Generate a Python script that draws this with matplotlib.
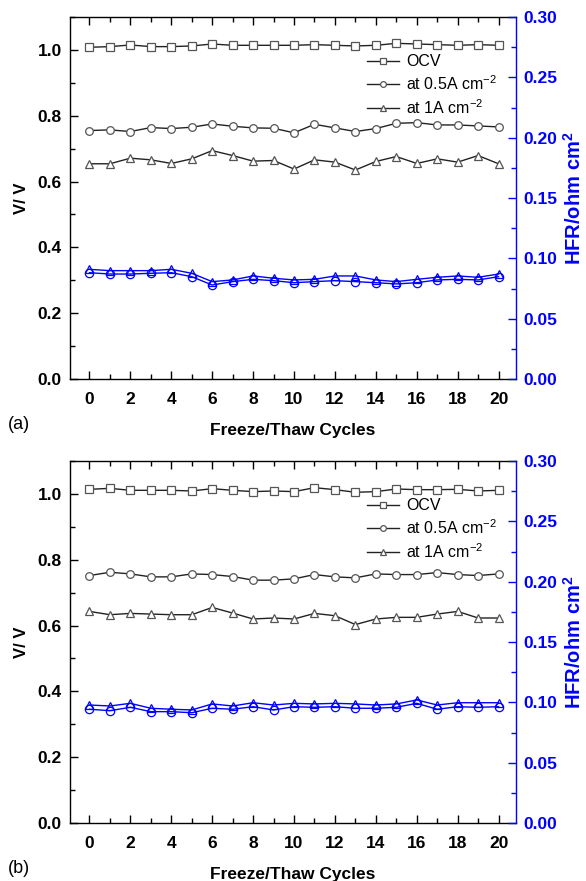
import matplotlib
matplotlib.use("Agg")
import matplotlib.pyplot as plt
from matplotlib.ticker import MultipleLocator

plt.rcParams['font.family'] = ['Liberation Sans', 'DejaVu Sans']
plt.rcParams['mathtext.default'] = 'regular'

cycles = list(range(21))

# panel (a)
ocv_a = [1.008, 1.010, 1.015, 1.010, 1.010, 1.012, 1.018, 1.014, 1.014, 1.014, 1.014,
         1.016, 1.014, 1.012, 1.014, 1.020, 1.018, 1.016, 1.014, 1.016, 1.014]
v05_a = [0.755, 0.757, 0.752, 0.764, 0.761, 0.765, 0.775, 0.768, 0.763, 0.762, 0.748,
         0.774, 0.763, 0.752, 0.761, 0.777, 0.779, 0.772, 0.772, 0.769, 0.766]
v1_a = [0.654, 0.654, 0.671, 0.666, 0.655, 0.669, 0.694, 0.679, 0.662, 0.664, 0.638,
        0.666, 0.659, 0.635, 0.661, 0.676, 0.655, 0.669, 0.659, 0.679, 0.654]
hfr1_a = [0.0909, 0.0898, 0.0898, 0.0898, 0.0909, 0.0876, 0.0807, 0.0821, 0.0854, 0.0835, 0.0821,
          0.0826, 0.0854, 0.0854, 0.0821, 0.0807, 0.0826, 0.0843, 0.0854, 0.0843, 0.0870]
hfr05_a = [0.0881, 0.0870, 0.0870, 0.0876, 0.0881, 0.0848, 0.0779, 0.0807, 0.0826, 0.0815, 0.0798,
           0.0807, 0.0815, 0.0807, 0.0798, 0.0788, 0.0798, 0.0821, 0.0826, 0.0821, 0.0848]

# panel (b)
ocv_b = [1.014, 1.017, 1.011, 1.011, 1.011, 1.009, 1.016, 1.011, 1.007, 1.009, 1.007,
         1.019, 1.013, 1.005, 1.007, 1.015, 1.013, 1.013, 1.014, 1.009, 1.011]
v05_b = [0.752, 0.762, 0.757, 0.748, 0.748, 0.757, 0.755, 0.749, 0.738, 0.738, 0.742,
         0.755, 0.748, 0.745, 0.757, 0.755, 0.755, 0.761, 0.755, 0.752, 0.757]
v1_b = [0.643, 0.633, 0.637, 0.635, 0.633, 0.633, 0.655, 0.638, 0.620, 0.623, 0.620,
        0.637, 0.630, 0.603, 0.620, 0.625, 0.625, 0.635, 0.643, 0.623, 0.623]
hfr1_b = [0.0978, 0.0970, 0.0992, 0.0951, 0.0943, 0.0937, 0.0987, 0.0970, 0.0997, 0.0978, 0.0992,
          0.0987, 0.0992, 0.0987, 0.0978, 0.0987, 0.1020, 0.0978, 0.0997, 0.0997, 0.0997]
hfr05_b = [0.0943, 0.0931, 0.0959, 0.0923, 0.0923, 0.0914, 0.0951, 0.0943, 0.0964, 0.0937, 0.0964,
           0.0959, 0.0964, 0.0951, 0.0951, 0.0959, 0.0992, 0.0943, 0.0964, 0.0959, 0.0964]

labels = ['OCV', 'at 0.5A cm$^{-2}$', 'at 1A cm$^{-2}$']
blue = '#0000ff'


def draw_panel(ax, ocv, v05, v1, hfr1, hfr05, tag, leg_y):
    mk = dict(mfc='white', markersize=5.5, mew=0.9, lw=1.0, color='#222222', mec='#555555')
    ax.plot(cycles, ocv, marker='s', label=labels[0], **mk)
    ax.plot(cycles, v05, marker='o', label=labels[1], **mk)
    ax.plot(cycles, v1, marker='^', label=labels[2], **mk)
    ax.set_xlim(-0.95, 20.85)
    ax.set_ylim(0, 1.1)
    ax.xaxis.set_major_locator(MultipleLocator(2))
    ax.xaxis.set_minor_locator(MultipleLocator(1))
    ax.yaxis.set_major_locator(MultipleLocator(0.2))
    ax.yaxis.set_minor_locator(MultipleLocator(0.1))
    ax.tick_params(which='both', direction='in', top=True, width=1.0, labelsize=12.5)
    ax.tick_params(axis='x', pad=9)
    ax.tick_params(axis='y', pad=6)
    ax.tick_params(which='major', length=6)
    ax.tick_params(which='minor', length=3.5)
    for t in ax.get_xticklabels() + ax.get_yticklabels():
        t.set_fontweight('bold')
    ax.spines['right'].set_visible(False)
    for s in ['left', 'top', 'bottom']:
        ax.spines[s].set_linewidth(1.0)
    ax.set_ylabel('V/ V', fontsize=12, fontweight='bold', labelpad=6)
    ax.set_xlabel('Freeze/Thaw Cycles', fontsize=12.5, fontweight='bold', labelpad=12)
    ax.legend(loc='upper left', bbox_to_anchor=(0.652, leg_y), frameon=False, fontsize=11.5,
              handlelength=2.0, handletextpad=0.45, labelspacing=0.32, borderaxespad=0,
              markerscale=0.75)
    ax.text(-0.14, -0.125, tag, transform=ax.transAxes, fontsize=13, va='center')

    ax2 = ax.twinx()
    bk = dict(mfc='none', markersize=6, mew=0.9, lw=1.0, color=blue, mec=blue)
    ax2.plot(cycles, hfr1, marker='^', **bk)
    ax2.plot(cycles, hfr05, marker='o', **bk)
    ax2.set_ylim(0, 0.30)
    ax2.yaxis.set_major_locator(MultipleLocator(0.05))
    ax2.yaxis.set_minor_locator(MultipleLocator(0.025))
    ax2.yaxis.set_major_formatter(plt.FormatStrFormatter('%.2f'))
    ax2.tick_params(which='both', direction='in', colors=blue, width=1.0, labelsize=12.5, pad=5)
    ax2.tick_params(which='major', length=6)
    ax2.tick_params(which='minor', length=3.5)
    for t in ax2.get_yticklabels():
        t.set_fontweight('bold')
    for s in ['left', 'top', 'bottom']:
        ax2.spines[s].set_visible(False)
    ax2.spines['right'].set_color(blue)
    ax2.spines['right'].set_linewidth(1.0)
    ax2.set_ylabel('HFR/ohm cm$^2$', color=blue, fontsize=14.5, fontweight='bold', labelpad=4)


fig = plt.figure(figsize=(5.86, 8.81), dpi=100)
ax_a = fig.add_axes([0.1195, 0.5698, 0.761, 0.4109])
ax_b = fig.add_axes([0.1195, 0.0658, 0.761, 0.4109])
draw_panel(ax_a, ocv_a, v05_a, v1_a, hfr1_a, hfr05_a, '(a)', 0.915)
draw_panel(ax_b, ocv_b, v05_b, v1_b, hfr1_b, hfr05_b, '(b)', 0.915)

fig.savefig('out.png', dpi=100)
